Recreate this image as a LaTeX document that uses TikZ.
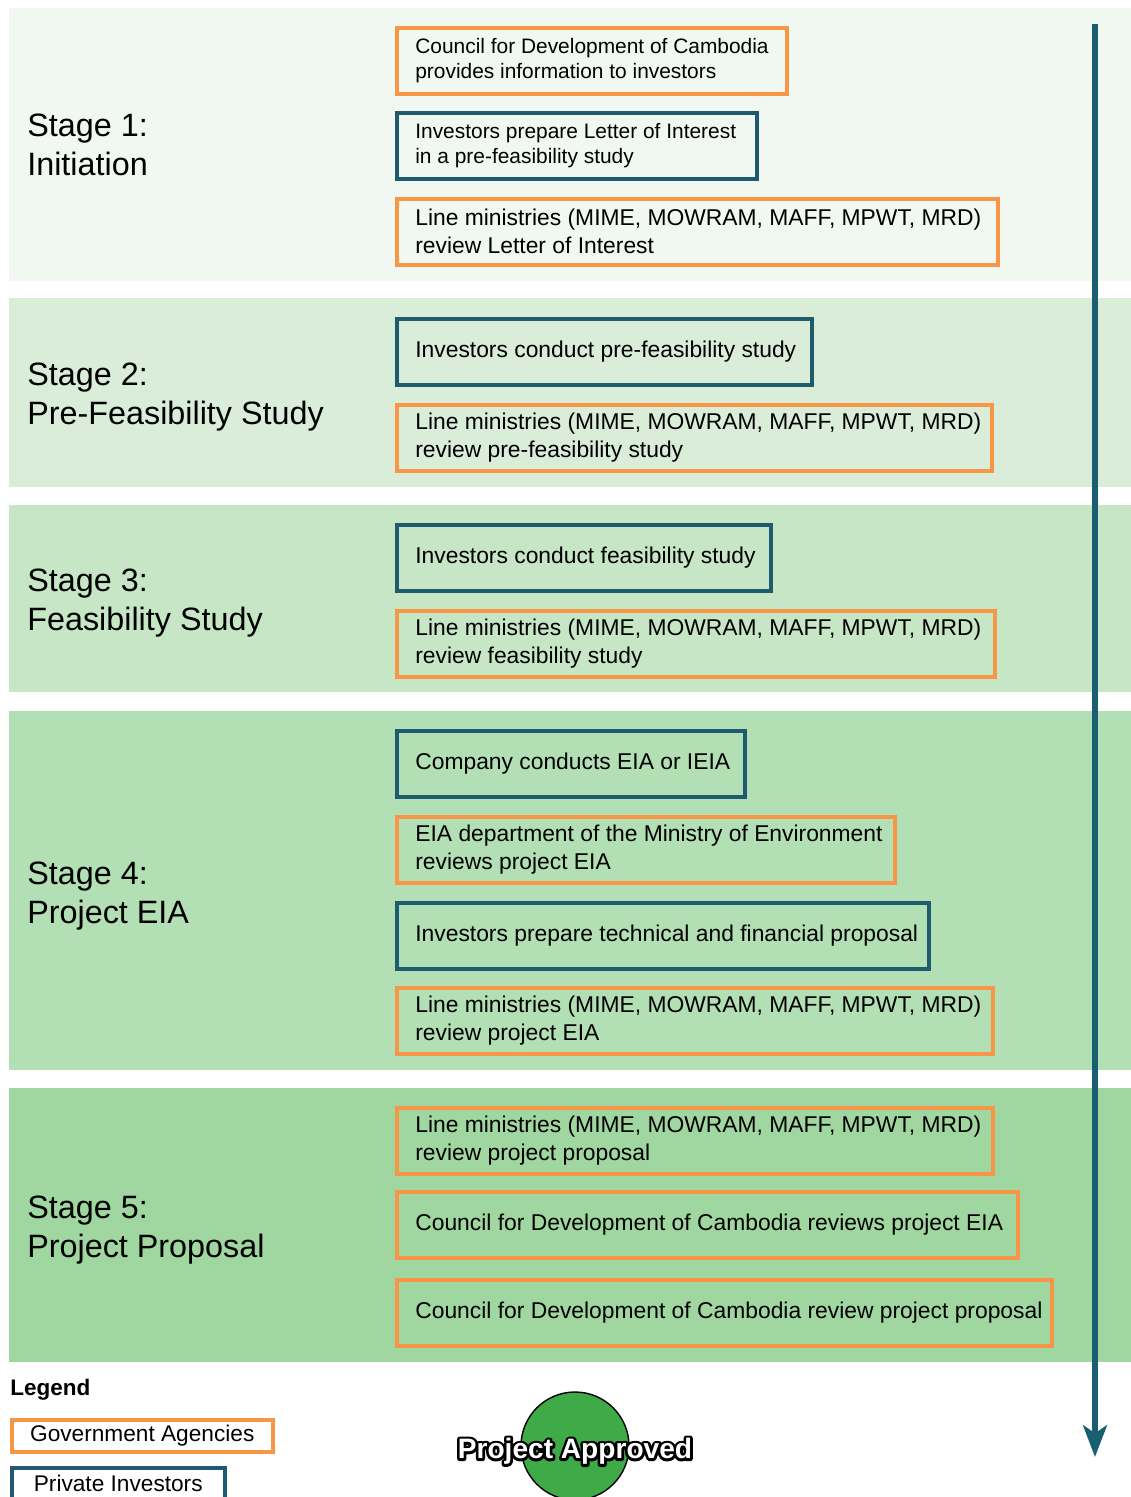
\documentclass[tikz,border=0pt]{standalone}
\usepackage{fontspec}
\setmainfont{Liberation Sans}
\usetikzlibrary{arrows.meta,positioning}

\newdimen\pxu
\pxu=0.02cm
% outline text: stroke mode on / off
\newcommand\strokeon{\special{pdf:literal direct 2 Tr 3 w 1 j}}
\newcommand\strokeoff{\special{pdf:literal direct 0 Tr}}

\definecolor{govorange}{HTML}{F79646}
\definecolor{invteal}{HTML}{1F5B6F}
\definecolor{flowteal}{HTML}{1A5E72}
\definecolor{bandone}{HTML}{F1F8F1}
\definecolor{bandtwo}{HTML}{D9EDD9}
\definecolor{bandthree}{HTML}{C6E6C6}
\definecolor{bandfour}{HTML}{B2DFB3}
\definecolor{bandfive}{HTML}{A0D6A0}
\definecolor{approvegreen}{HTML}{3FAB48}

\tikzset{
  stepbox/.style={draw=#1, line width=2pt, anchor=north west, minimum height=66\pxu, inner sep=0pt},
  steptext/.style={anchor=west, xshift=20\pxu, inner sep=0pt, align=left, font=\fontsize{13}{15.9}\selectfont},
  smalltext/.style={steptext, font=\fontsize{11.9}{14.2}\selectfont},
  stagetext/.style={anchor=west, inner sep=0pt, align=left, font=\fontsize{18.4}{22.2}\selectfont},
  legbox/.style={draw=#1, line width=2pt, anchor=north west, minimum height=32\pxu, inner sep=0pt, font=\fontsize{12.9}{15.9}\selectfont},
  approvetext/.style={inner sep=0pt, font=\bfseries\fontsize{16}{19}\selectfont},
}

\begin{document}
\begin{tikzpicture}[x=0.02cm, y=-0.02cm]
\useasboundingbox (0,0) rectangle (1131,1497);

% stage bands
\fill[bandone] (9,8) rectangle (1131,281);
\fill[bandtwo] (9,298) rectangle (1131,487);
\fill[bandthree] (9,505) rectangle (1131,692);
\fill[bandfour] (9,711) rectangle (1131,1070);
\fill[bandfive] (9,1088) rectangle (1131,1362);

\node[stagetext] (stage1) at (27,144.5) {Stage 1:\\Initiation};
\node[stagetext] (stage2) at (27,397.5) {Stage 2:\\Pre-Feasibility Study};
\node[stagetext] (stage3) at (27,603.5) {Stage 3:\\Feasibility Study};
\node[stagetext] (stage4) at (27,896) {Stage 4:\\Project EIA};
\node[stagetext] (stage5) at (27,1230) {Stage 5:\\Project Proposal};

% stage 1
\node[stepbox=govorange, minimum width=390\pxu, label={[smalltext]west:{Council for Development of Cambodia\\provides information to investors}}] (cdcinfo) at (395,26) {};
\node[stepbox=invteal, minimum width=360\pxu, label={[smalltext]west:{Investors prepare Letter of Interest\\in a pre-feasibility study}}] (letter) at (395,111) {};
\node[stepbox=govorange, minimum width=601\pxu, label={[steptext]west:{Line ministries (MIME, MOWRAM, MAFF, MPWT, MRD)\\review Letter of Interest}}] (letterrev) at (395,197) {};

% stage 2
\node[stepbox=invteal, minimum width=415\pxu, label={[steptext]west:{Investors conduct pre-feasibility study}}] (prefeas) at (395,317) {};
\node[stepbox=govorange, minimum width=595\pxu, label={[steptext]west:{Line ministries (MIME, MOWRAM, MAFF, MPWT, MRD)\\review pre-feasibility study}}] (prefeasrev) at (395,403) {};

% stage 3
\node[stepbox=invteal, minimum width=374\pxu, label={[steptext]west:{Investors conduct feasibility study}}] (feas) at (395,523) {};
\node[stepbox=govorange, minimum width=598\pxu, label={[steptext]west:{Line ministries (MIME, MOWRAM, MAFF, MPWT, MRD)\\review feasibility study}}] (feasrev) at (395,609) {};

% stage 4
\node[stepbox=invteal, minimum width=348\pxu, label={[steptext]west:{Company conducts EIA or IEIA}}] (eia) at (395,729) {};
\node[stepbox=govorange, minimum width=498\pxu, label={[steptext]west:{EIA department of the Ministry of Environment\\reviews project EIA}}] (eiarev) at (395,815) {};
\node[stepbox=invteal, minimum width=532\pxu, label={[steptext]west:{Investors prepare technical and financial proposal}}] (proposal) at (395,901) {};
\node[stepbox=govorange, minimum width=596\pxu, label={[steptext]west:{Line ministries (MIME, MOWRAM, MAFF, MPWT, MRD)\\review project EIA}}] (eialine) at (395,986) {};

% stage 5
\node[stepbox=govorange, minimum width=596\pxu, label={[steptext]west:{Line ministries (MIME, MOWRAM, MAFF, MPWT, MRD)\\review project proposal}}] (proprev) at (395,1106) {};
\node[stepbox=govorange, minimum width=621\pxu, label={[steptext]west:{Council for Development of Cambodia reviews project EIA}}] (cdceia) at (395,1190) {};
\node[stepbox=govorange, minimum width=655\pxu, label={[steptext]west:{Council for Development of Cambodia review project proposal}}] (cdcprop) at (395,1278) {};

% legend
\node[anchor=west, inner sep=0pt, font=\bfseries\fontsize{12.8}{15}\selectfont] (legend) at (10,1390) {Legend};
\node[legbox=govorange, minimum width=261\pxu] (leggov) at (10,1418) {Government Agencies};
\node[legbox=invteal, minimum width=213\pxu] (leginv) at (10,1466) {Private Investors};

% approval
\node[circle, fill=approvegreen, draw=black, line width=0.8pt, minimum size=108\pxu, inner sep=0pt] (approved) at (575,1446) {};
\node[approvetext, text=black] (approvedline) at ([yshift=-3pt]approved.center) {\strokeon Project Approved\strokeoff};
\node[approvetext, text=white] (approvedtext) at (approvedline.center) {Project Approved};

% flow arrow
\coordinate (flowtop) at (1095,24);
\coordinate (flowend) at (1095,1457);
\draw[flowteal, line width=3.6pt, -{Stealth[length=18pt, width=13.5pt, inset=4.5pt]}] (flowtop) -- (flowend);

\end{tikzpicture}
\end{document}
